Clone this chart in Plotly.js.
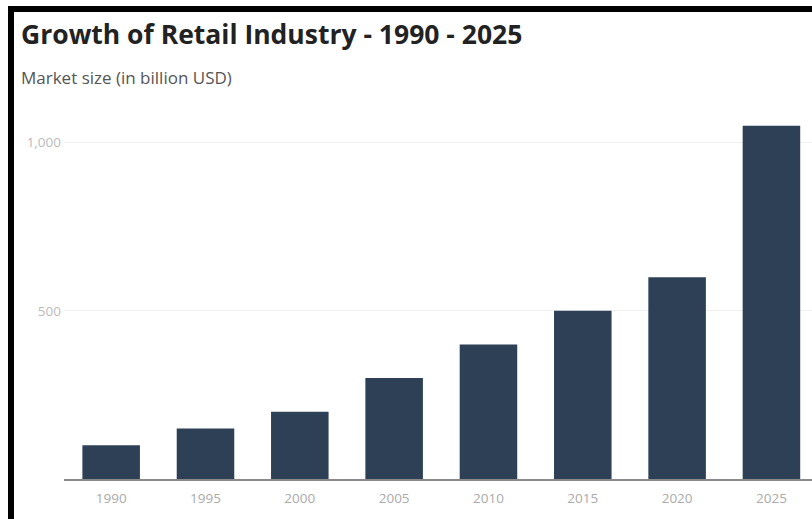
<!DOCTYPE html>
<html><head><meta charset="utf-8">
<script src="https://cdn.plot.ly/plotly-3.0.1.min.js"></script>
<style>
html,body{margin:0;padding:0;background:#fff;}
#wrap{position:relative;width:812px;height:519px;overflow:hidden;}
#chart{width:812px;height:519px;}
#frame{position:absolute;left:8px;top:6px;width:900px;height:600px;border-left:6px solid #000;border-top:6px solid #000;pointer-events:none;}
</style></head>
<body>
<div id="wrap"><div id="chart"></div><div id="frame"></div></div>
<script>
const years = ["1990","1995","2000","2005","2010","2015","2020","2025"];
const marketSize = [100, 150, 200, 300, 400, 500, 600, 1050];
const yTickVals = [500, 1000];
const yTickText = ["500", "1,000"];

const trace = {
  type: "bar",
  x: years,
  y: marketSize,
  width: 0.61,
  marker: {color: "#2d4055"},
  hoverinfo: "x+y"
};

const L = 64, T = 109, W = 748, H = 370;
const layout = {
  width: 812, height: 519,
  margin: {l: L, r: 0, t: T, b: 519 - T - H},
  paper_bgcolor: "#fff", plot_bgcolor: "#fff",
  showlegend: false,
  font: {family: "'Open Sans', Roboto, sans-serif"},
  title: {
    text: "Growth of Retail Industry - 1990 - 2025",
    xref: "container", yref: "container",
    x: 21/812, xanchor: "left",
    y: 1 - 35/519, yanchor: "middle",
    font: {size: 26.5, color: "#222", family: "'Open Sans', sans-serif", weight: 700}
  },
  annotations: [{
    text: "Market size (in billion USD)",
    xref: "paper", yref: "paper",
    x: (19 - L)/W, xanchor: "left",
    y: (T + H - 77)/H, yanchor: "middle",
    showarrow: false,
    font: {size: 17, color: "#555"}
  }],
  xaxis: {
    type: "category",
    range: [-0.5, 7.43],
    showgrid: false,
    showline: true, linecolor: "#8a8a8a", linewidth: 1.5,
    ticks: "",
    ticklabelstandoff: 6,
    tickfont: {size: 13.5, color: "#aaa"},
    fixedrange: true
  },
  yaxis: {
    range: [0, 1100],
    tickvals: yTickVals,
    ticktext: yTickText,
    showgrid: true, gridcolor: "#f0f0f0", gridwidth: 1,
    zeroline: false,
    showline: false,
    ticks: "",
    ticklabelstandoff: 2,
    tickfont: {size: 13.5, color: "#bbb"},
    fixedrange: true
  },
  bargap: 0.39
};

Plotly.newPlot("chart", [trace], layout, {displayModeBar: false, staticPlot: true});
</script>
</body></html>
